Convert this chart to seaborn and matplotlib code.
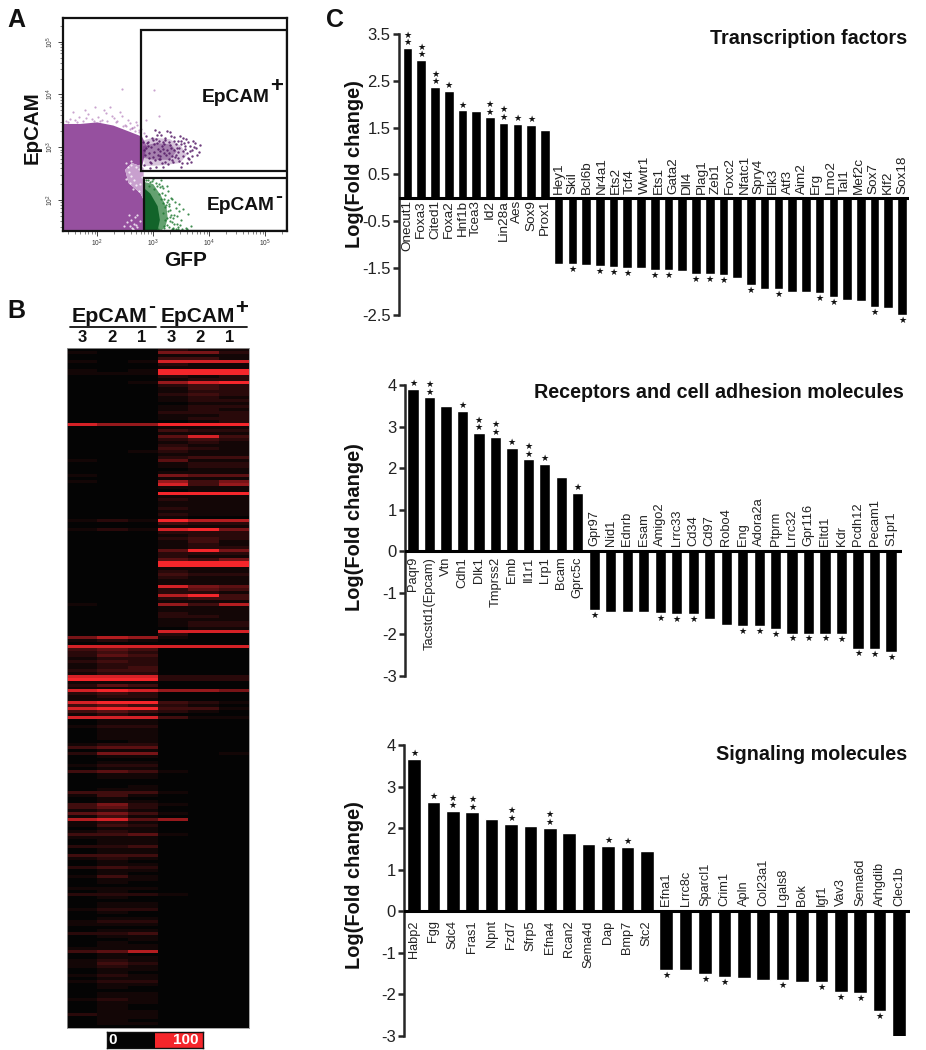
import numpy as np
import pandas as pd
import seaborn as sns
import matplotlib.pyplot as plt
from matplotlib.colors import LinearSegmentedColormap
from matplotlib.patches import Rectangle

# bar panels
tf_genes = ["Onecut1", "Foxa3", "Cited1", "Foxa2", "Hnf1b", "Tcea3", "Id2", "Lin28a", "Aes", "Sox9", "Prox1",
            "Hey1", "Skil", "Bcl6b", "Nr4a1", "Ets2", "Tcf4", "Wwtr1", "Ets1", "Gata2", "Dll4", "Plag1", "Zeb1",
            "Foxc2", "Nfatc1", "Spry4", "Elk3", "Atf3", "Aim2", "Erg", "Lmo2", "Tal1", "Mef2c", "Sox7", "Klf2", "Sox18"]
tf_values = [3.2, 2.95, 2.37, 2.29, 1.87, 1.85, 1.72, 1.61, 1.58, 1.56, 1.44,
             -1.41, -1.42, -1.43, -1.46, -1.47, -1.49, -1.49, -1.54, -1.54, -1.56, -1.62, -1.62, -1.65,
             -1.7, -1.87, -1.95, -1.95, -2.0, -2.0, -2.04, -2.12, -2.18, -2.2, -2.33, -2.36, -2.51]
tf_stars = [2, 2, 2, 1, 1, 0, 2, 2, 1, 1, 0,
            0, 1, 0, 1, 1, 1, 0, 1, 1, 0, 1, 1, 1, 0, 1, 0, 1, 0, 0, 1, 1, 0, 0, 1, 0, 1]

rec_genes = ["Paqr9", "Tacstd1(Epcam)", "Vtn", "Cdh1", "Dlk1", "Tmprss2", "Emb", "Il1r1", "Lrp1", "Bcam", "Gprc5c",
             "Gpr97", "Nid1", "Ednrb", "Esam", "Amigo2", "Lrrc33", "Cd34", "Cd97", "Robo4", "Eng", "Adora2a",
             "Ptprm", "Lrrc32", "Gpr116", "Eltd1", "Kdr", "Pcdh12", "Pecam1", "S1pr1"]
rec_values = [3.9, 3.7, 3.5, 3.37, 2.85, 2.74, 2.48, 2.21, 2.11, 1.78, 1.41,
              -1.41, -1.45, -1.45, -1.45, -1.48, -1.51, -1.52, -1.64, -1.78, -1.8, -1.8, -1.88,
              -1.98, -1.98, -1.98, -2.0, -2.34, -2.35, -2.42]
rec_stars = [1, 2, 0, 1, 2, 2, 1, 2, 1, 0, 1,
             1, 0, 0, 0, 1, 1, 1, 0, 0, 1, 1, 1, 1, 1, 1, 1, 1, 1, 1]

sig_genes = ["Habp2", "Fgg", "Sdc4", "Fras1", "Npnt", "Fzd7", "Sfrp5", "Efna4", "Rcan2", "Sema4d", "Dap", "Bmp7", "Stc2",
             "Efna1", "Lrrc8c", "Sparcl1", "Crim1", "Apln", "Col23a1", "Lgals8", "Bok", "Igf1", "Vav3", "Sema6d",
             "Arhgdib", "Clec1b"]
sig_values = [3.66, 2.64, 2.41, 2.38, 2.21, 2.11, 2.04, 2.01, 1.88, 1.61, 1.58, 1.55, 1.45,
              -1.41, -1.41, -1.51, -1.58, -1.61, -1.65, -1.65, -1.71, -1.71, -1.94, -1.97, -2.4, -3.03]
sig_stars = [1, 1, 2, 2, 0, 2, 0, 2, 0, 0, 1, 1, 0,
             1, 0, 1, 1, 0, 0, 1, 0, 1, 1, 1, 1, 0]

tf_ticks = ["3.5", "2.5", "1.5", "0.5", "-0.5", "-1.5", "-2.5"]
int_ticks = ["4", "3", "2", "1", "0", "-1", "-2", "-3"]

# heatmap, one string per row, one digit (0-9) per column
col_labels = ["3", "2", "1", "3", "2", "1"]
row_levels = """
000211 100552 000111 000331 101888 000211 000111 101999 111999 000212
000122 001689 000232 000132 000122 000232 000121 000122 000011 000122
000121 000222 000112 000122 000012 866999 000111 000322 000111 000483
000232 000121 000211 000321 001211 000111 000233 100411 000122 000122
000011 000111 100544 000111 100635 000836 000111 000011 000999 000111
000211 000111 000111 000211 000111 000211 000100 121977 000322 000111
121895 000222 000122 000232 000131 000121 000122 000495 000222 000211
000435 000999 000999 000111 000211 000322 000211 000111 000111 000854
000243 000221 000793 000233 000111 100637 000111 000111 000211 000221
000111 000122 000122 000011 000888 000200 576100 121000 000000 888888
343000 232000 243000 122000 232000 122000 123000 233000 122000 888222
999222 111000 243000 111000 898665 232000 122000 111000 899321 343210
899331 343210 121000 888311 011000 011000 122000 011000 011000 011000
011000 001000 122000 344000 011000 255001 011000 000000 011000 122000
011000 343100 011000 011000 000000 000000 001000 011000 333100 131000
010000 011000 352100 342000 121000 453100 131000 784600 121000 132000
011000 121000 334100 111000 011000 011000 223000 011000 011000 333000
121000 010000 011000 232000 011000 010000 131000 011000 010000 000000
111000 010000 222100 010000 000000 011000 011000 122000 010000 000000
011000 122000 111000 000000 011000 223000 011000 001000 010000 011000
111000 347000 010000 011000 121000 132000 121000 011000 010000 121000
011000 122000 011000 010000 000000 011000 011000 121000 011000 010000
010000 011000 211000 011000 010000 011000 000000
""".split()

# flow plot, all in log10 units
main_hull_x = [1.40, 1.40, 1.70, 2.00, 2.29, 2.56, 2.80, 2.89, 2.80, 2.62, 2.50, 2.56, 2.77, 2.83, 2.83]
main_hull_y = [1.42, 3.44, 3.44, 3.47, 3.41, 3.30, 3.20, 3.01, 2.63, 2.70, 2.57, 2.32, 2.13, 2.00, 1.42]
notch_x = [2.80, 2.62, 2.50, 2.56, 2.77, 2.83, 2.83]
notch_y = [2.63, 2.70, 2.57, 2.32, 2.13, 2.00, 2.60]
pos_hull_x = [2.80, 3.00, 3.30, 3.50, 3.60, 3.48, 3.20, 2.85]
pos_hull_y = [3.12, 3.18, 3.15, 3.02, 2.85, 2.70, 2.66, 2.64]
pos_core_x = [2.82, 3.05, 3.32, 3.42, 3.30, 3.00, 2.82]
pos_core_y = [3.02, 3.08, 3.05, 2.92, 2.76, 2.76, 2.80]
neg_hull_x = [2.84, 3.00, 3.14, 3.24, 3.26, 3.22, 3.15, 2.84]
neg_hull_y = [2.34, 2.30, 2.08, 1.85, 1.65, 1.50, 1.42, 1.42]
neg_core_x = [2.84, 2.95, 3.08, 3.12, 3.08, 2.84]
neg_core_y = [2.22, 2.12, 1.88, 1.62, 1.42, 1.42]

fringe_x = [1.45, 1.52, 1.60, 1.68, 1.74, 1.83, 1.90, 1.96, 2.02, 2.08, 2.15, 2.23, 2.30, 2.36, 2.44, 2.50, 2.58, 2.66,
            2.72, 2.78, 1.56, 1.78, 2.12, 2.26, 2.40, 2.55, 2.70, 2.44, 3.02, 2.88, 3.10, 2.62, 2.52, 2.58, 2.68, 2.74,
            1.48, 1.64, 1.80, 1.94, 2.05, 2.18, 2.33, 2.47, 2.62, 2.75, 2.83]
fringe_y = [3.50, 3.54, 3.52, 3.58, 3.50, 3.62, 3.53, 3.76, 3.58, 3.52, 3.64, 3.77, 3.55, 3.50, 3.60, 3.42, 3.46, 3.38,
            3.42, 3.35, 3.66, 3.70, 3.70, 3.60, 3.66, 3.52, 3.48, 4.10, 4.08, 3.52, 3.60, 3.36, 3.40, 3.35, 3.30, 3.28,
            3.48, 3.48, 3.55, 3.50, 3.50, 3.50, 3.48, 3.40, 3.36, 3.32, 3.26]
white_x = [2.60, 2.66, 2.72, 2.58, 2.68, 2.76, 2.62, 2.72, 2.54, 2.64, 2.56, 2.70, 2.48, 2.60, 2.74, 2.80, 2.56,
           2.66, 2.76, 2.52, 2.60, 2.70, 2.64, 2.74, 2.58, 2.69, 2.61, 2.55, 2.77, 2.52]
white_y = [1.62, 1.55, 1.48, 1.50, 1.68, 1.60, 1.46, 1.72, 1.58, 1.44, 1.72, 1.52, 1.50, 2.66, 2.58, 2.44, 2.52,
           2.38, 2.30, 2.40, 2.46, 2.28, 2.20, 2.16, 2.32, 2.62, 2.74, 2.62, 2.66, 2.70]
pos_x = [2.82, 2.86, 2.90, 2.94, 2.98, 3.02, 3.06, 3.10, 3.14, 3.18, 3.22, 3.26, 3.30, 3.34, 3.38, 3.42, 3.46, 3.50,
         3.54, 3.58, 3.62, 3.66, 3.70, 3.74, 3.78, 2.84, 2.88, 2.92, 2.96, 3.00, 3.04, 3.08, 3.12, 3.16, 3.20, 3.24,
         3.28, 3.32, 3.36, 3.40, 3.44, 3.48, 3.52, 3.56, 3.60, 3.64, 3.68, 2.83, 2.91, 2.99, 3.07, 3.15, 3.23, 3.31,
         3.39, 3.47, 3.55, 3.63, 3.71, 3.05, 3.13, 3.21, 3.29, 3.37, 3.45, 3.53, 2.95, 3.03, 3.11, 3.19,
         2.87, 2.93, 3.01, 3.09, 3.17, 3.25, 3.33, 3.41, 3.49, 3.57, 3.65, 3.73, 2.89, 2.97, 3.05, 3.13, 3.21, 3.29,
         3.37, 3.45, 3.53, 3.61, 3.69, 3.77, 3.81, 3.84, 3.10, 3.30, 3.50, 3.18]
pos_y = [3.10, 2.85, 3.02, 2.72, 3.18, 2.90, 3.08, 2.78, 3.24, 2.96, 3.14, 2.68, 3.05, 2.84, 3.20, 2.98, 2.74, 3.12,
         2.92, 3.16, 2.80, 3.02, 2.95, 3.08, 2.86, 2.66, 3.22, 2.88, 3.00, 3.14, 2.76, 2.96, 2.92, 2.70, 3.06, 3.30,
         2.88, 3.22, 2.72, 3.06, 2.90, 3.22, 2.70, 3.02, 2.88, 2.78, 2.72, 2.95, 3.10, 2.82, 3.24, 3.02, 2.86, 2.98,
         2.82, 2.98, 3.08, 3.10, 3.12, 2.62, 2.84, 3.18, 3.10, 2.94, 3.12, 2.84, 2.60, 3.32, 3.12, 2.88,
         2.98, 2.80, 3.06, 2.86, 3.10, 2.94, 2.76, 2.86, 3.06, 2.96, 2.92, 3.00, 3.08, 2.70, 3.16, 2.78, 2.72, 2.78,
         3.12, 2.80, 3.18, 2.70, 2.84, 2.98, 2.90, 3.04, 3.28, 3.28, 2.62, 2.62]
neg_x = [3.20, 3.25, 3.30, 3.34, 3.38, 3.42, 3.46, 3.50, 3.24, 3.28, 3.32, 3.36, 3.40, 3.44, 3.22, 3.26, 3.30, 3.35,
         3.39, 3.43, 3.48, 3.54, 3.58, 3.62, 3.68, 3.23, 3.27, 3.31, 3.37, 3.41, 3.46, 3.52, 3.21, 3.29, 3.33, 3.18,
         3.10, 3.00, 2.95, 3.14, 3.05, 2.90, 3.25, 3.16, 3.35, 3.08, 3.45, 3.60, 3.33,
         3.19, 3.22, 3.26, 3.30, 3.16, 3.12, 3.18, 3.24, 3.28, 3.20, 3.14, 3.10, 3.06, 3.02, 2.98, 2.93, 2.88, 3.17]
neg_y = [1.50, 1.66, 1.80, 1.58, 1.72, 1.55, 1.92, 1.62, 1.96, 1.48, 2.04, 1.66, 1.84, 1.48, 2.10, 1.78, 1.60, 1.46,
         1.96, 1.70, 1.52, 1.82, 1.46, 1.74, 1.50, 1.90, 2.16, 1.72, 1.55, 1.44, 1.78, 1.44, 1.62, 1.92, 2.02, 2.22,
         2.30, 2.40, 2.34, 2.38, 2.32, 2.37, 2.26, 2.27, 1.44, 1.44, 1.44, 1.44, 1.44,
         2.02, 1.86, 2.00, 1.68, 2.14, 2.24, 1.76, 1.52, 1.88, 1.46, 2.02, 2.12, 2.26, 2.20, 2.36, 2.26, 2.38, 1.94]

sns.set_style("white")
plt.rcParams["font.family"] = ["Liberation Sans", "DejaVu Sans"]
plt.rcParams["mathtext.default"] = "regular"

W, H = 926, 1050
fig = plt.figure(figsize=(W / 100, H / 100), dpi=100, facecolor="white")


def axes_px(x0, y0, x1, y1):
    return fig.add_axes([x0 / W, 1 - y1 / H, (x1 - x0) / W, (y1 - y0) / H])


def fig_text(x, y, s, **kw):
    fig.text(x / W, 1 - y / H, s, ha=kw.pop("ha", "center"), va=kw.pop("va", "center"), **kw)


def bar_panel(genes, values, stars, ticks, box, first_bar, last_bar, title, title_xy, ylabel_y, width, gap, size):
    x0, y0, x1, y1 = box
    n = len(values)
    step = (last_bar - first_bar) / (n - 1)
    ax = axes_px(x0, y0, x1, y1)
    data = pd.DataFrame({"bar": range(n), "value": values})
    sns.barplot(data=data, x="bar", y="value", color="black", saturation=1, width=width, ax=ax)
    ax.set_xlim((x0 - first_bar) / step, (x1 - first_bar) / step)
    tick_vals = [float(t) for t in ticks]
    ax.set_ylim(tick_vals[-1], tick_vals[0])
    ax.set_yticks(tick_vals)
    ax.set_yticklabels(ticks, fontsize=12, color="#222222")
    ax.set_xticks([])
    ax.set_xlabel("")
    ax.set_ylabel("")
    ax.patch.set_alpha(0)
    sns.despine(ax=ax, top=True, right=True, bottom=True)
    ax.spines["left"].set_linewidth(1.8)
    ax.tick_params(axis="y", left=True, length=4, width=1.8, pad=2)
    ax.axhline(0, color="black", lw=2.2, zorder=5)

    # gene names, the negative group is spread over its own bars
    n_up = sum(v > 0 for v in values)
    n_down = len(genes) - n_up
    label_x = list(range(n_up)) + list(np.linspace(n_up, n - 1, n_down))
    for i, gene in enumerate(genes):
        up = i < n_up
        ax.annotate(gene, (label_x[i], 0), xytext=(0, -gap[0] if up else gap[1]), textcoords="offset points",
                    rotation=90, ha="center", va="top" if up else "bottom", fontsize=size, color="#222222")

    for i, (v, s) in enumerate(zip(values, stars)):
        sign = 1 if v > 0 else -1
        for k in range(s):
            ax.annotate("★", (i, v), xytext=(0, sign * (3.8 + 5.4 * k)), textcoords="offset points",
                        ha="center", va="center", fontsize=6.6, color="#111111",
                        family="DejaVu Sans", annotation_clip=False)

    fig_text(title_xy[0], title_xy[1], title, ha="right", fontsize=14.2, fontweight="bold", color="#111111")
    fig_text(355, ylabel_y, "Log(Fold change)", rotation=90, fontsize=14.4, fontweight="bold", color="#111111")


bar_panel(tf_genes, tf_values, tf_stars, tf_ticks, (399, 34, 909, 315), 407.5, 902, "Transcription factors",
          (907, 38), 164, 0.7, (1.5, 3), 9.7)
bar_panel(rec_genes, rec_values, rec_stars, int_ticks, (405, 385, 902, 676), 413, 891,
          "Receptors and cell adhesion molecules", (904, 393), 527, 0.68, (4, 4), 9.3)
bar_panel(sig_genes, sig_values, sig_stars, int_ticks, (404, 745, 910, 1036), 414, 899, "Signaling molecules",
          (907, 754), 885, 0.7, (6.5, 4), 9.2)

# A: flow plot
ax_a = axes_px(63, 18, 287, 231)
ax_a.set_xscale("log")
ax_a.set_yscale("log")
ax_a.set_xlim(10 ** 1.39, 10 ** 5.39)
ax_a.set_ylim(10 ** 1.41, 10 ** 5.45)


def pow10(vals):
    return 10 ** np.array(vals, dtype=float)


ax_a.fill(pow10(main_hull_x), pow10(main_hull_y), color="#96509f", lw=0)
ax_a.fill(pow10(notch_x), pow10(notch_y), color="#c8a0ce", lw=0)
ax_a.fill(pow10(pos_hull_x), pow10(pos_hull_y), color="#a77cb0", alpha=0.45, lw=0)
ax_a.fill(pow10(pos_core_x), pow10(pos_core_y), color="#6a2f78", alpha=0.45, lw=0)
ax_a.fill(pow10(neg_hull_x), pow10(neg_hull_y), color="#3d8a4c", alpha=0.8, lw=0)
ax_a.fill(pow10(neg_core_x), pow10(neg_core_y), color="#12642a", lw=0)
sns.scatterplot(x=pow10(fringe_x), y=pow10(fringe_y), s=2.5, color="#a868b0", alpha=0.6, linewidth=0, ax=ax_a)
sns.scatterplot(x=pow10(white_x), y=pow10(white_y), s=2.5, color="white", alpha=0.8, linewidth=0, ax=ax_a)
sns.scatterplot(x=pow10(pos_x), y=pow10(pos_y), s=3, color="#541a66", alpha=0.85, linewidth=0, ax=ax_a)
sns.scatterplot(x=pow10(neg_x), y=pow10(neg_y), s=2.5, color="#1f7a33", alpha=0.85, linewidth=0, ax=ax_a)

for spine in ax_a.spines.values():
    spine.set_linewidth(1.6)
    spine.set_color("#111111")
decades = [2, 3, 4, 5]
ax_a.set_xticks([10 ** d for d in decades])
ax_a.set_yticks([10 ** d for d in decades])
ax_a.set_xticklabels([f"$10^{d}$" for d in decades], fontsize=4.8, color="#333333")
ax_a.set_yticklabels([f"$10^{d}$" for d in decades], fontsize=4.8, color="#333333", rotation=90, va="center")
ax_a.tick_params(axis="both", which="major", length=3.5, width=0.7, color="#444444", pad=1.5, bottom=True, left=True)
ax_a.tick_params(axis="both", which="minor", length=2, width=0.5, color="#555555", bottom=True, left=True)
ax_a.add_patch(Rectangle((10 ** 2.79, 10 ** 2.55), 10 ** 5.39 - 10 ** 2.79, 10 ** 5.23 - 10 ** 2.55,
                         fill=False, ec="#111111", lw=1.6, zorder=6))
ax_a.add_patch(Rectangle((10 ** 2.83, 10 ** 1.41), 10 ** 5.39 - 10 ** 2.83, 10 ** 2.42 - 10 ** 1.41,
                         fill=False, ec="#111111", lw=1.6, zorder=6))

bold = dict(fontweight="bold", color="#111111")
fig_text(32, 128, "EpCAM", rotation=90, fontsize=14.8, **bold)
fig_text(186, 260, "GFP", fontsize=15, **bold)
fig_text(270, 97, "EpCAM", ha="right", fontsize=13.8, **bold)
fig_text(277, 87, "+", fontsize=16, **bold)
fig_text(275, 205, "EpCAM", ha="right", fontsize=13.8, **bold)
fig_text(279, 197, "-", fontsize=15, **bold)
fig_text(16, 20, "A", fontsize=18, **bold)
fig_text(16, 311, "B", fontsize=18, **bold)
fig_text(335, 20, "C", fontsize=18, **bold)

# B: heatmap
heat = np.array([[100 * (int(c) / 9) ** 1.25 for c in row] for row in row_levels])
black_red = LinearSegmentedColormap.from_list("black_red", ["#040404", "#f5262b"])
ax_b = axes_px(67, 348, 249, 1028)
sns.heatmap(heat, cmap=black_red, vmin=0, vmax=100, cbar=False, xticklabels=False, yticklabels=False, ax=ax_b)
for spine in ax_b.spines.values():
    spine.set_visible(True)
    spine.set_color("#999999")
    spine.set_linewidth(0.6)

for cx, label in zip(np.linspace(82, 230, 6), col_labels):
    fig_text(cx, 338, label, fontsize=12, **bold)
fig_text(72, 316, "EpCAM", ha="left", fontsize=15.4, **bold)
fig_text(152, 307, "-", fontsize=15, **bold)
fig_text(161, 316, "EpCAM", ha="left", fontsize=15, **bold)
fig_text(242, 308, "+", fontsize=16, **bold)
fig.add_artist(plt.Line2D([70 / W, 156 / W], [1 - 327 / H] * 2, color="#111111", lw=1.3))
fig.add_artist(plt.Line2D([161 / W, 247 / W], [1 - 327 / H] * 2, color="#111111", lw=1.3))

ax_key = axes_px(107, 1032, 203, 1048)
sns.heatmap([[0, 100]], cmap=black_red, vmin=0, vmax=100, cbar=False, xticklabels=False, yticklabels=False, ax=ax_key)
for spine in ax_key.spines.values():
    spine.set_visible(True)
    spine.set_color("#111111")
    spine.set_linewidth(1)
fig_text(113, 1040, "0", fontsize=11, fontweight="bold", color="white")
fig_text(199, 1040, "100", ha="right", fontsize=11, fontweight="bold", color="white")

fig.savefig("out.png", dpi=100)
